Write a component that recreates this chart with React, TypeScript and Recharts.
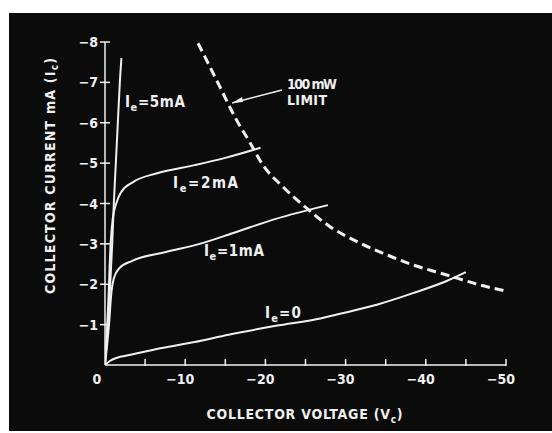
import React from "react";
import { LineChart, Line, XAxis, YAxis, ReferenceDot, ReferenceLine } from "recharts";

// Collector characteristics (collector voltage V, collector current mA), both negative
const ie5mA = [
  { v: 0, i: 0 }, { v: -0.35, i: -1 }, { v: -0.65, i: -2 }, { v: -0.9, i: -3 },
  { v: -1.1, i: -4 }, { v: -1.35, i: -5 }, { v: -1.6, i: -6 }, { v: -1.85, i: -7 }, { v: -2.05, i: -7.6 },
];
const ie2mA = [
  { v: 0, i: 0 }, { v: -0.4, i: -1.5 }, { v: -0.7, i: -3 }, { v: -0.95, i: -3.6 }, { v: -1.4, i: -4.0 },
  { v: -2.0, i: -4.28 }, { v: -3.5, i: -4.53 }, { v: -6.5, i: -4.75 }, { v: -11.2, i: -4.95 },
  { v: -15, i: -5.13 }, { v: -19.4, i: -5.38 },
];
const ie1mA = [
  { v: 0, i: 0 }, { v: -0.5, i: -1 }, { v: -0.8, i: -1.8 }, { v: -1.1, i: -2.15 }, { v: -1.8, i: -2.4 },
  { v: -3.4, i: -2.58 }, { v: -7.6, i: -2.8 }, { v: -11.8, i: -3.0 }, { v: -16, i: -3.27 },
  { v: -21.3, i: -3.62 }, { v: -27.8, i: -3.96 },
];
const ie0 = [
  { v: 0, i: 0 }, { v: -0.6, i: -0.1 }, { v: -1.5, i: -0.18 }, { v: -2.9, i: -0.24 }, { v: -7.1, i: -0.42 },
  { v: -11.2, i: -0.57 }, { v: -15.4, i: -0.75 }, { v: -21.3, i: -0.97 }, { v: -27, i: -1.16 },
  { v: -30, i: -1.3 }, { v: -34, i: -1.5 }, { v: -38.4, i: -1.78 }, { v: -42.6, i: -2.08 }, { v: -45, i: -2.3 },
];
const limit100mW = [
  { v: -11.6, i: -7.97 }, { v: -14.3, i: -6.9 }, { v: -16.2, i: -6.14 }, { v: -18.1, i: -5.5 },
  { v: -19.7, i: -4.95 }, { v: -22.2, i: -4.41 }, { v: -24.7, i: -3.96 }, { v: -28.1, i: -3.42 },
  { v: -31.8, i: -3.02 }, { v: -35.5, i: -2.7 }, { v: -38.4, i: -2.48 }, { v: -42.6, i: -2.23 },
  { v: -46.8, i: -1.98 }, { v: -50, i: -1.83 },
];

const xTicks = [0, -5, -10, -15, -20, -25, -30, -35, -40, -45, -50];
const xTickLabels: Record<string, string> = { "0": "0", "-10": "\u221210", "-20": "\u221220", "-30": "\u221230", "-40": "\u221240", "-50": "\u221250" };
const yTicks = [-8, -7, -6, -5, -4, -3, -2, -1, 0];
const yTickLabels: Record<string, string> = { "-8": "\u22128", "-7": "\u22127", "-6": "\u22126", "-5": "\u22125", "-4": "\u22124", "-3": "\u22123", "-2": "\u22122", "-1": "\u22121" };

const curveLabels = [
  { v: -2.49, i: -6.39, main: "I", sub: "e", rest: "=5mA", len: 60 },
  { v: -8.48, i: -4.38, main: "I", sub: "e", rest: "=2mA", len: 65 },
  { v: -12.34, i: -2.7, main: "I", sub: "e", rest: "=1mA", len: 60 },
  { v: -19.95, i: -1.16, main: "I", sub: "e", rest: "=0", len: 36 },
];
const limitLabels = [
  { v: -22.69, i: -6.84, text: "100 mW", len: 50 },
  { v: -22.69, i: -6.44, text: "LIMIT", len: 40 },
];
const arrowTail = { v: -22.07, i: -6.81 };
const arrowTip = { v: -15.84, i: -6.49 };

const FG = "#f0f0f0";
const FONT = "'DejaVu Sans Condensed', 'DejaVu Sans', sans-serif";

const XTick = (props: any) => {
  const { x, y, payload } = props;
  const label = xTickLabels[String(payload.value)];
  const dx = payload.value === 0 ? -8 : -5;
  return (
    <g>
      {payload.value !== 0 && <line x1={x} x2={x} y1={y - 6} y2={y + 1} stroke={FG} strokeWidth={1.5} />}
      {label && (
        <text x={x + dx} y={y + 19} textAnchor="middle" fill={FG} fontFamily={FONT} fontWeight="bold" fontSize={14}>
          {label}
        </text>
      )}
    </g>
  );
};

const YTick = (props: any) => {
  const { x, y, payload } = props;
  const label = yTickLabels[String(payload.value)];
  if (!label) return null;
  return (
    <g>
      <line x1={x - 5} x2={x + 5} y1={y} y2={y} stroke={FG} strokeWidth={1.5} />
      <text x={x - 7} y={y + 5} textAnchor="end" fill={FG} fontFamily={FONT} fontWeight="bold" fontSize={14}>
        {label}
      </text>
    </g>
  );
};

const XTitle = (props: any) => {
  const vb = props.viewBox || {};
  const cx = vb.x + vb.width / 2 - 1;
  return (
    <text x={cx} y={365 + 54} textAnchor="middle" fill={FG} fontFamily={FONT} fontWeight="bold" fontSize={14}
      textLength={196} lengthAdjust="spacing">
      COLLECTOR VOLTAGE (V<tspan fontSize={10} dy={4}>c</tspan><tspan dy={-4}>)</tspan>
    </text>
  );
};

const YTitle = () => {
  const tx = 55;
  const ty = 176;
  return (
    <text x={tx} y={ty} transform={`rotate(-90 ${tx} ${ty})`} textAnchor="middle" fill={FG} fontFamily={FONT}
      fontWeight="bold" fontSize={14} textLength={236} lengthAdjust="spacing">
      COLLECTOR CURRENT mA (I<tspan fontSize={10} dy={3}>c</tspan><tspan dy={-3}>)</tspan>
    </text>
  );
};

export default function App() {
  return (
    <div style={{ position: "absolute", left: 0, top: 0, width: 552, height: 433, background: "#ffffff", overflow: "hidden" }}>
      <div style={{ position: "absolute", left: 9, top: 13, width: 543, height: 418, background: "#0b0b0b" }} />
      <div style={{ position: "absolute", left: 0, top: 0 }}>
        <LineChart width={552} height={433} margin={{ top: 42, right: 46, bottom: 58, left: 95 }}>
          <XAxis
            type="number"
            dataKey="v"
            domain={[-50, 0]}
            reversed
            ticks={xTicks}
            interval={0}
            height={10}
            tickSize={0}
            tickMargin={0}
            tickLine={false}
            axisLine={{ stroke: FG, strokeWidth: 1.5 }}
            tick={<XTick />}
            allowDataOverflow
            label={<XTitle />}
          />
          <YAxis
            type="number"
            dataKey="i"
            domain={[-8, 0]}
            reversed
            ticks={yTicks}
            interval={0}
            width={10}
            tickSize={0}
            tickMargin={0}
            tickLine={false}
            axisLine={{ stroke: FG, strokeWidth: 1.5 }}
            tick={<YTick />}
            allowDataOverflow
            label={<YTitle />}
          />
          <Line data={ie5mA} dataKey="i" type="monotone" stroke={FG} strokeWidth={2} dot={false} isAnimationActive={false} />
          <Line data={ie2mA} dataKey="i" type="monotone" stroke={FG} strokeWidth={2} dot={false} isAnimationActive={false} />
          <Line data={ie1mA} dataKey="i" type="monotone" stroke={FG} strokeWidth={2} dot={false} isAnimationActive={false} />
          <Line data={ie0} dataKey="i" type="monotone" stroke={FG} strokeWidth={2} dot={false} isAnimationActive={false} />
          <Line data={limit100mW} dataKey="i" type="monotone" stroke={FG} strokeWidth={3} strokeDasharray="9 5" dot={false} isAnimationActive={false} />
          <ReferenceLine
            segment={[{ x: arrowTail.v, y: arrowTail.i }, { x: arrowTip.v, y: arrowTip.i }]}
            stroke={FG}
            strokeWidth={1.5}
          />
          <ReferenceDot
            x={arrowTip.v}
            y={arrowTip.i}
            r={0}
            shape={(p: any) => (
              <polygon
                points={`${p.cx},${p.cy} ${p.cx + 10},${p.cy - 6} ${p.cx + 11},${p.cy - 1}`}
                fill={FG}
              />
            )}
          />
          {curveLabels.map((l, k) => (
            <ReferenceDot
              key={"c" + k}
              x={l.v}
              y={l.i}
              r={0}
              shape={(p: any) => (
                <text x={p.cx} y={p.cy} fill={FG} fontFamily={FONT} fontWeight="bold" fontSize={15}
                  textLength={l.len} lengthAdjust="spacing">
                  {l.main}<tspan fontSize={11} dy={4}>{l.sub}</tspan><tspan dy={-4}>{l.rest}</tspan>
                </text>
              )}
            />
          ))}
          {limitLabels.map((l, k) => (
            <ReferenceDot
              key={"l" + k}
              x={l.v}
              y={l.i}
              r={0}
              shape={(p: any) => (
                <text x={p.cx} y={p.cy} fill={FG} fontFamily={FONT} fontWeight="bold" fontSize={14}
                  textLength={l.len} lengthAdjust="spacing">
                  {l.text}
                </text>
              )}
            />
          ))}
        </LineChart>
      </div>
    </div>
  );
}
